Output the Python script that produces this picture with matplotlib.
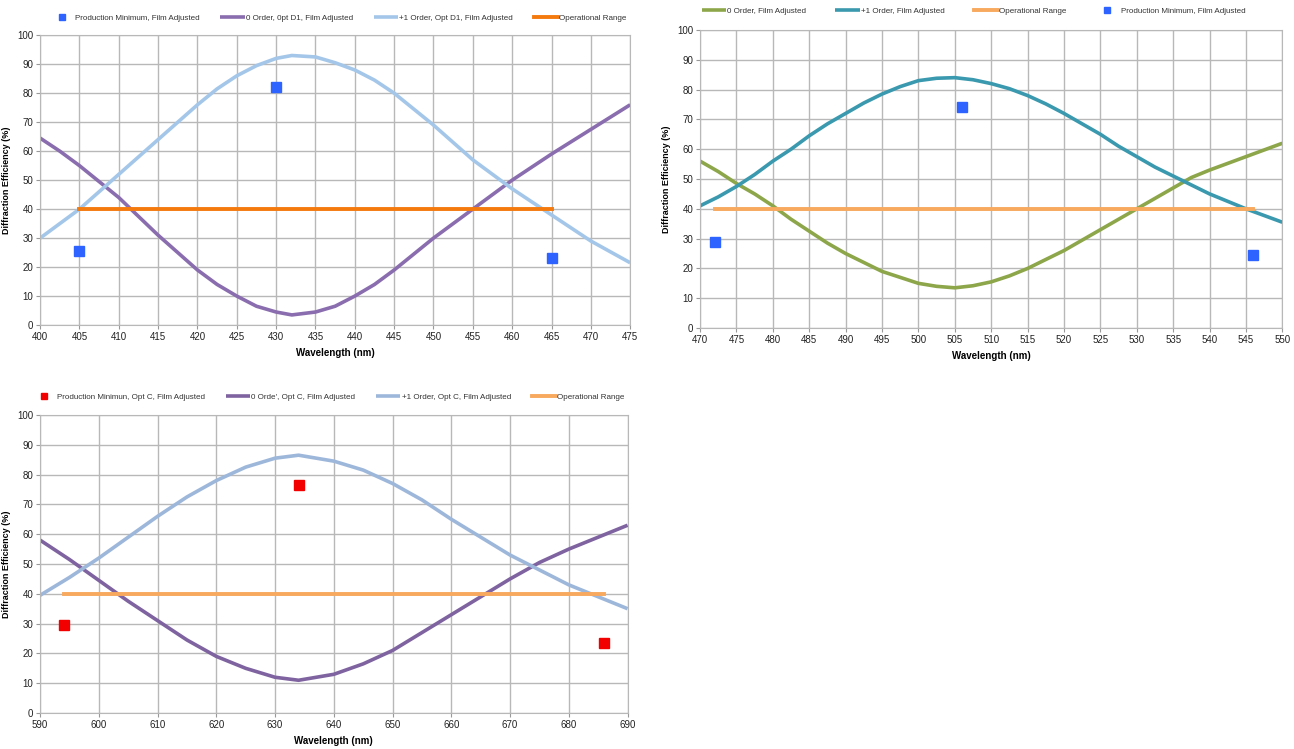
import matplotlib
matplotlib.use("Agg")
import matplotlib.pyplot as plt

# ---------- Data: panel A (top-left) ----------
wl_a = [400, 402.5, 405, 407.5, 410, 412.5, 415, 417.5, 420, 422.5, 425, 427.5, 430, 432, 435, 437.5, 440, 442.5, 445, 447.5, 450, 452.5, 455, 457.5, 460, 462.5, 465, 470, 475]
zero_a = [64.5, 60, 55, 49.5, 44, 37.5, 31, 25, 19, 14, 10, 6.5, 4.5, 3.5, 4.5, 6.5, 10, 14, 19, 24.5, 30, 35, 40, 45, 50, 54.5, 59, 67.5, 76]
plus_a = [30, 35, 40, 46, 52, 58, 64, 70, 76, 81.5, 86, 89.5, 92, 93, 92.5, 90.5, 88, 84.5, 80, 74.5, 69, 63, 57, 52, 47, 42.5, 38, 29, 21.5]
op_a_x = [405, 465]
op_a_y = [40, 40]
pm_a_x = [405, 430, 465]
pm_a_y = [25.5, 82, 23]

# ---------- Data: panel B (top-right) ----------
wl_b = [470, 472.5, 475, 477.5, 480, 482.5, 485, 487.5, 490, 492.5, 495, 497.5, 500, 502.5, 505, 507.5, 510, 512.5, 515, 517.5, 520, 522.5, 525, 527.5, 530, 532.5, 535, 537.5, 540, 545, 550]
zero_b = [56, 52.5, 48.5, 45, 41, 36.5, 32.5, 28.5, 25, 22, 19, 17, 15, 14, 13.5, 14.2, 15.5, 17.5, 20, 23, 26, 29.5, 33, 36.5, 40, 43.5, 47, 50.5, 53, 57.5, 62]
plus_b = [41, 44, 47.5, 51.5, 56, 60, 64.5, 68.5, 72, 75.5, 78.5, 81, 83, 83.8, 84, 83.3, 82, 80.3, 78, 75.2, 72, 68.5, 65, 61, 57.5, 54, 51, 48, 45, 40, 35.5]
op_b_x = [472, 546]
op_b_y = [40, 40]
pm_b_x = [472, 506, 546]
pm_b_y = [29, 74, 24.5]

# ---------- Data: panel C (bottom-left) ----------
wl_c = [590, 595, 600, 605, 610, 615, 620, 625, 630, 634, 640, 645, 650, 655, 660, 665, 670, 675, 680, 685, 690]
zero_c = [58, 51.5, 44.5, 37.5, 31, 24.5, 19, 15, 12, 11, 13, 16.5, 21, 27, 33, 39, 45, 50.5, 55, 59, 63]
plus_c = [39.5, 45.5, 52, 59, 66, 72.5, 78, 82.5, 85.5, 86.5, 84.5, 81.5, 77, 71.5, 65, 59, 53, 48, 43, 39, 35]
op_c_x = [594, 686]
op_c_y = [40, 40]
pm_c_x = [594, 634, 686]
pm_c_y = [29.5, 76.5, 23.5]

plt.rcParams['font.family'] = ['Liberation Sans', 'DejaVu Sans']

fig = plt.figure(figsize=(12.94, 7.49), dpi=100)

def style_axes(ax, xmin, xmax, xstep):
    ax.set_xlim(xmin, xmax)
    ax.set_ylim(0, 100)
    ax.set_xticks(list(range(xmin, xmax + 1, xstep)))
    ax.set_yticks(list(range(0, 101, 10)))
    ax.grid(True, color='#b8b8b8', linewidth=1.0)
    ax.set_axisbelow(True)
    for s in ax.spines.values():
        s.set_color('#b8b8b8')
    ax.tick_params(labelsize=7, length=3, pad=2, color='#999999', labelcolor='#222222')
    ax.set_xlabel('Wavelength (nm)', fontsize=7, fontweight='bold', labelpad=4)
    ax.set_ylabel('Diffraction Efficiency (%)', fontsize=6.5, fontweight='bold', labelpad=4)

leg_kw = dict(loc='lower center', ncol=4, frameon=False, handlelength=3.0,
              handletextpad=0.15, borderaxespad=0.2, prop={'size': 5.8},
              labelcolor='#333333')
lkw = dict(lw=2.6, solid_joinstyle='round', solid_capstyle='butt')

# Panel A
axA = fig.add_axes([0.031, 0.566, 0.456, 0.387])
style_axes(axA, 400, 475, 5)
l1, = axA.plot(wl_a, zero_a, color='#8A6DAE', label='0 Order, 0pt D1, Film Adjusted', **lkw)
l2, = axA.plot(wl_a, plus_a, color='#A4C7E9', label='+1 Order, Opt D1, Film Adjusted', **lkw)
l3, = axA.plot(op_a_x, op_a_y, color='#F47A0E', lw=2.8, label='Operational Range')
p1, = axA.plot(pm_a_x, pm_a_y, ls='none', marker='s', ms=4.5, color='#2E63FF', label='Production Minimum, Film Adjusted')
axA.legend(handles=[p1, l1, l2, l3], bbox_to_anchor=(0.505, 1.03), columnspacing=2.6, **leg_kw)
axA.plot(pm_a_x, pm_a_y, ls='none', marker='s', ms=7, color='#2E63FF')

# Panel B
axB = fig.add_axes([0.541, 0.562, 0.450, 0.398])
style_axes(axB, 470, 550, 5)
m1, = axB.plot(wl_b, zero_b, color='#8DA64A', label='0 Order, Film Adjusted', **lkw)
m2, = axB.plot(wl_b, plus_b, color='#3A99AE', label='+1 Order, Film Adjusted', **lkw)
m3, = axB.plot(op_b_x, op_b_y, color='#F8A95E', lw=2.8, label='Operational Range')
q1, = axB.plot(pm_b_x, pm_b_y, ls='none', marker='s', ms=4.5, color='#2E63FF', label='Production Minimum, Film Adjusted')
axB.legend(handles=[m1, m2, m3, q1], bbox_to_anchor=(0.47, 1.035), columnspacing=3.6, **leg_kw)
axB.plot(pm_b_x, pm_b_y, ls='none', marker='s', ms=7, color='#2E63FF')

# Panel C
axC = fig.add_axes([0.031, 0.048, 0.454, 0.398])
style_axes(axC, 590, 690, 10)
n1, = axC.plot(wl_c, zero_c, color='#7E63A0', label="0 Orde', Opt C, Film Adjusted", **lkw)
n2, = axC.plot(wl_c, plus_c, color='#9DB7DB', label='+1 Order, Opt C, Film Adjusted', **lkw)
n3, = axC.plot(op_c_x, op_c_y, color='#F8A95E', lw=2.8, label='Operational Range')
r1, = axC.plot(pm_c_x, pm_c_y, ls='none', marker='s', ms=4.5, color='#F20000', label='Production Minimun, Opt C, Film Adjusted')
axC.legend(handles=[r1, n1, n2, n3], bbox_to_anchor=(0.49, 1.03), columnspacing=2.6, **leg_kw)
axC.plot(pm_c_x, pm_c_y, ls='none', marker='s', ms=7, color='#F20000')

fig.savefig('out.png', dpi=100, facecolor='white')
